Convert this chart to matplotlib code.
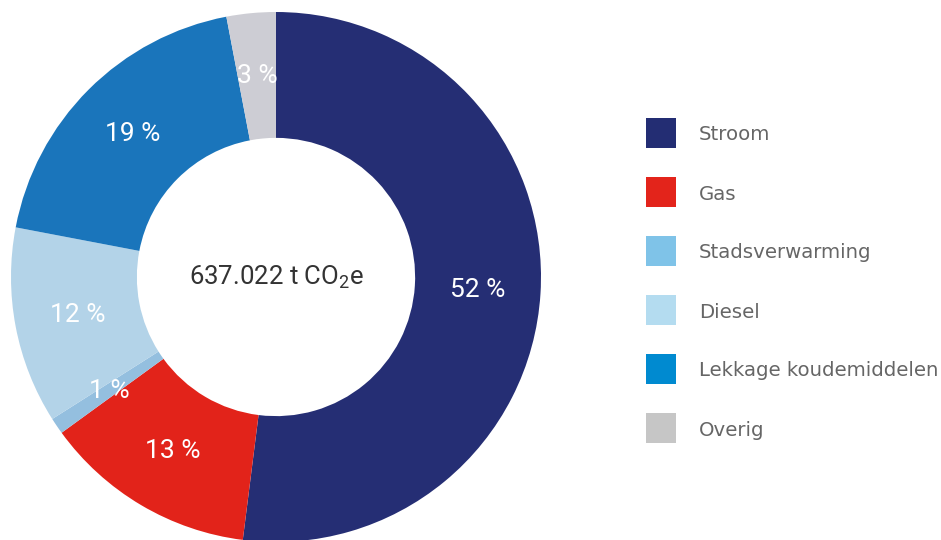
import matplotlib
matplotlib.use("Agg")
import matplotlib.pyplot as plt
from matplotlib.patches import Rectangle
import numpy as np

plt.rcParams['font.family'] = ['Roboto', 'DejaVu Sans']
plt.rcParams['mathtext.fontset'] = 'custom'
plt.rcParams['mathtext.rm'] = 'Roboto'
plt.rcParams['mathtext.it'] = 'Roboto'

# data
labels = ['Stroom', 'Gas', 'Stadsverwarming', 'Diesel', 'Lekkage koudemiddelen', 'Overig']
shares = [52, 13, 1, 12, 19, 3]
slice_colors = ['#252e74', '#e2231a', '#94bfdf', '#b3d3e8', '#1a75bb', '#cdcdd4']
legend_colors = ['#232d73', '#e3241b', '#7fc3e8', '#b4dcf0', '#008ad0', '#c6c6c6']
total_text = '637.022 t CO$_2$e'

W, H = 941, 540
fig = plt.figure(figsize=(W / 100, H / 100), dpi=100)

# donut axes, center (276, 277) px from top-left, radius 265 px
cx, cy, R = 276, 277, 265
ax = fig.add_axes([(cx - R) / W, (H - cy - R) / H, 2 * R / W, 2 * R / H])
wedges, _ = ax.pie(shares, colors=slice_colors, startangle=90, counterclock=False,
                   radius=1.0, wedgeprops=dict(width=0.475, linewidth=0))
ax.set_xlim(-1, 1)
ax.set_ylim(-1, 1)
ax.set_aspect('equal')
ax.axis('off')

for w, s in zip(wedges, shares):
    ang = np.deg2rad((w.theta1 + w.theta2) / 2)
    r = 1 - 0.475 / 2
    ax.text(r * np.cos(ang), r * np.sin(ang), f'{s} %', color='white',
            fontsize=19, ha='center', va='center')

ax.text(0, 0, total_text, ha='center', va='center', fontsize=18.5, color='#333333')

# legend
for i, (lab, col) in enumerate(zip(labels, legend_colors)):
    yc = 133 + i * 59
    fig.add_artist(Rectangle((646 / W, (H - yc - 15) / H), 30 / W, 30 / H,
                             transform=fig.transFigure, color=col, lw=0))
    fig.text(699 / W, (H - yc - 2) / H, lab, ha='left', va='center',
             fontsize=14.2, color='#666666', family='DejaVu Sans')

fig.savefig('out.png', dpi=100)
